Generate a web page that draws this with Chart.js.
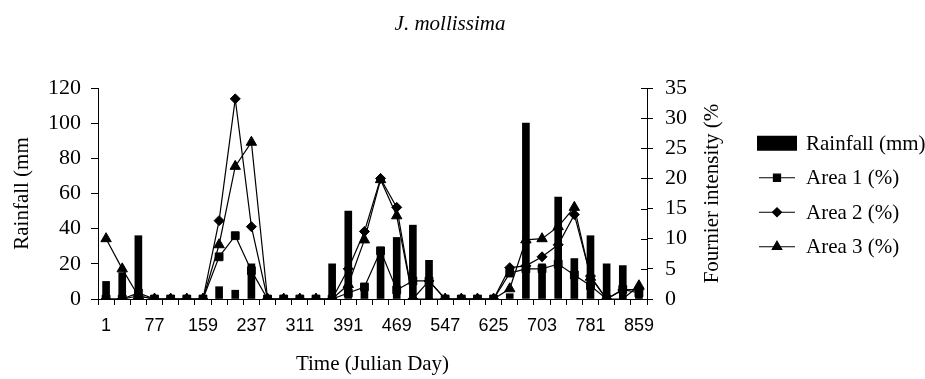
<!DOCTYPE html>
<html><head><meta charset="utf-8">
<script src="https://cdn.jsdelivr.net/npm/chart.js@4"></script>
<style>html,body{margin:0;padding:0;background:#fff}canvas{display:block}</style>
</head><body>
<canvas id="c" width="925" height="379" style="width:925px;height:379px"></canvas>
<script>
const days = [1,27,52,77,104,132,159,185,211,237,262,286,311,338,365,391,417,443,469,495,521,547,573,599,625,651,677,703,729,755,781,807,833,859];
const rainfall = [10,15,36,2,2,2,2,7,5,20,2,2,2,2,20,50,8,29,35,42,22,2,2,2,2,3,100,20,58,23,36,20,19,5];
const area1 = [0,0,1,0,0,0,0,7,10.5,4.7,0,0,0,0,0,1,2,8,1.5,3,3,0,0,0,0,4.3,5,5,5.8,4,2.2,0,1.6,1];
const area2 = [0,0,0.5,0,0,0,0,13,33.2,12,0,0,0,0,0,5,11.2,20,15.2,0,3,0,0,0,0,5.2,5.5,7,9,14,3.8,0,1.5,1.6];
const area3 = [10,5,0.5,0,0,0,0,9,22,26,0,0,0,0,0,2.4,9.8,19.8,13.8,0,0,0,0,0,0,1.7,9.8,10,12,15.2,3.6,0,0,2.2];
const rainTicks = [0,20,40,60,80,100,120];
const fournierTicks = [0,5,10,15,20,25,30,35];
const seriesNames = ['Rainfall (mm)','Area 1 (%)','Area 2 (%)','Area 3 (%)'];
const chartTitle = 'J. mollissima';
const xTitle = 'Time (Julian Day)';
const yTitle = 'Rainfall (mm';
const y1Title = 'Fournier intensity (%';

const SERIF = '"Liberation Serif", "Times New Roman", serif';
const SANS = '"Liberation Sans", Arial, sans-serif';

const extras = {
  id: 'extras',
  afterDraw(chart) {
    const ctx = chart.ctx;
    const ca = chart.chartArea;
    ctx.save();
    ctx.fillStyle = '#000';
    ctx.strokeStyle = '#000';
    // chart title
    ctx.font = 'italic 21px ' + SERIF;
    ctx.textAlign = 'center';
    ctx.textBaseline = 'middle';
    ctx.fillText(chartTitle, 450, 24);
    // right axis inner ticks + title
    const s = chart.scales.y1;
    ctx.lineWidth = 1;
    ctx.beginPath();
    s.ticks.forEach(t => {
      const y = Math.round(s.getPixelForValue(t.value)) + 0.5;
      ctx.moveTo(s.left - 6, y); ctx.lineTo(s.left, y);
    });
    ctx.stroke();
    ctx.save();
    ctx.translate(s.right - 25, (ca.top + ca.bottom) / 2);
    ctx.rotate(-Math.PI / 2);
    ctx.font = '21px ' + SERIF;
    ctx.fillText(y1Title, 0, 0);
    ctx.restore();
    // legend
    const ds = chart.data.datasets;
    const rowH = 34.5;
    const cy = (ca.top + ca.bottom) / 2 + 1.5;
    const x0 = 757, x1 = 797;
    ctx.font = '21px ' + SERIF;
    ctx.textAlign = 'left';
    ds.forEach((d, i) => {
      const y = cy + (i - (ds.length - 1) / 2) * rowH;
      if (d.type === 'bar') {
        ctx.fillRect(x0, y - 7.5, x1 - x0, 15);
      } else {
        ctx.lineWidth = 1.2;
        ctx.beginPath(); ctx.moveTo(x0 + 2, y); ctx.lineTo(x1 - 2, y); ctx.stroke();
        Chart.helpers.drawPoint(ctx, {pointStyle: d.pointStyle, radius: d.pointRadius - 0.5, rotation: 0, borderWidth: 1}, (x0 + x1) / 2, y);
      }
      ctx.fillText(d.label, 806, y + 1);
    });
    ctx.restore();
  }
};

const lineDs = (label, data, style, r, order) => ({
  type: 'line', label, data, yAxisID: 'y1', order,
  borderColor: '#000', borderWidth: 1.2, tension: 0,
  pointStyle: style, pointRadius: r, pointHoverRadius: r,
  pointBackgroundColor: '#000', pointBorderColor: '#000', pointBorderWidth: 1
});

new Chart(document.getElementById('c'), {
  type: 'bar',
  data: {
    labels: days.map(String),
    datasets: [
      {type: 'bar', label: seriesNames[0], data: rainfall, yAxisID: 'y', backgroundColor: '#000', barThickness: 7, order: 4},
      lineDs(seriesNames[1], area1, 'rect', 5.5, 3),
      lineDs(seriesNames[2], area2, 'rectRot', 5, 2),
      lineDs(seriesNames[3], area3, 'triangle', 6, 1)
    ]
  },
  options: {
    responsive: false,
    animation: false,
    devicePixelRatio: 1,
    layout: {padding: {top: 88, right: 188, bottom: 0, left: 0}},
    plugins: {legend: {display: false}, title: {display: false}, tooltip: {enabled: false}},
    scales: {
      x: {
        offset: true,
        grid: {display: true, offset: true, drawOnChartArea: false, drawTicks: true, tickLength: 6, color: '#000', lineWidth: 1},
        border: {display: true, color: '#000', width: 1},
        ticks: {autoSkip: false, maxRotation: 0, minRotation: 0, padding: 10, color: '#000',
          font: {family: SANS, size: 18},
          callback: (v, i) => (i % 3 === 0 ? String(days[i]) : '')},
        title: {display: true, text: xTitle, color: '#000', font: {family: SERIF, size: 21}, padding: {top: 0, bottom: 2}},
        afterFit: s => { s.height = 80; }
      },
      y: {
        position: 'left', min: rainTicks[0], max: rainTicks[rainTicks.length - 1],
        grid: {drawOnChartArea: false, tickLength: 7, color: '#000', lineWidth: 1},
        border: {display: true, color: '#000', width: 1},
        ticks: {stepSize: rainTicks[1] - rainTicks[0], padding: 10, color: '#000', font: {family: SERIF, size: 22}},
        title: {display: true, text: yTitle, color: '#000', font: {family: SERIF, size: 21}, padding: {top: 10, bottom: 0}},
        afterFit: s => { s.width = 98; }
      },
      y1: {
        position: 'right', min: fournierTicks[0], max: fournierTicks[fournierTicks.length - 1],
        grid: {drawOnChartArea: false, tickLength: 6, color: '#000', lineWidth: 1},
        border: {display: true, color: '#000', width: 1},
        ticks: {stepSize: fournierTicks[1] - fournierTicks[0], padding: 12, color: '#000', font: {family: SERIF, size: 22}},
        afterFit: s => { s.width = 90; }
      }
    }
  },
  plugins: [extras]
});
</script>
</body></html>
